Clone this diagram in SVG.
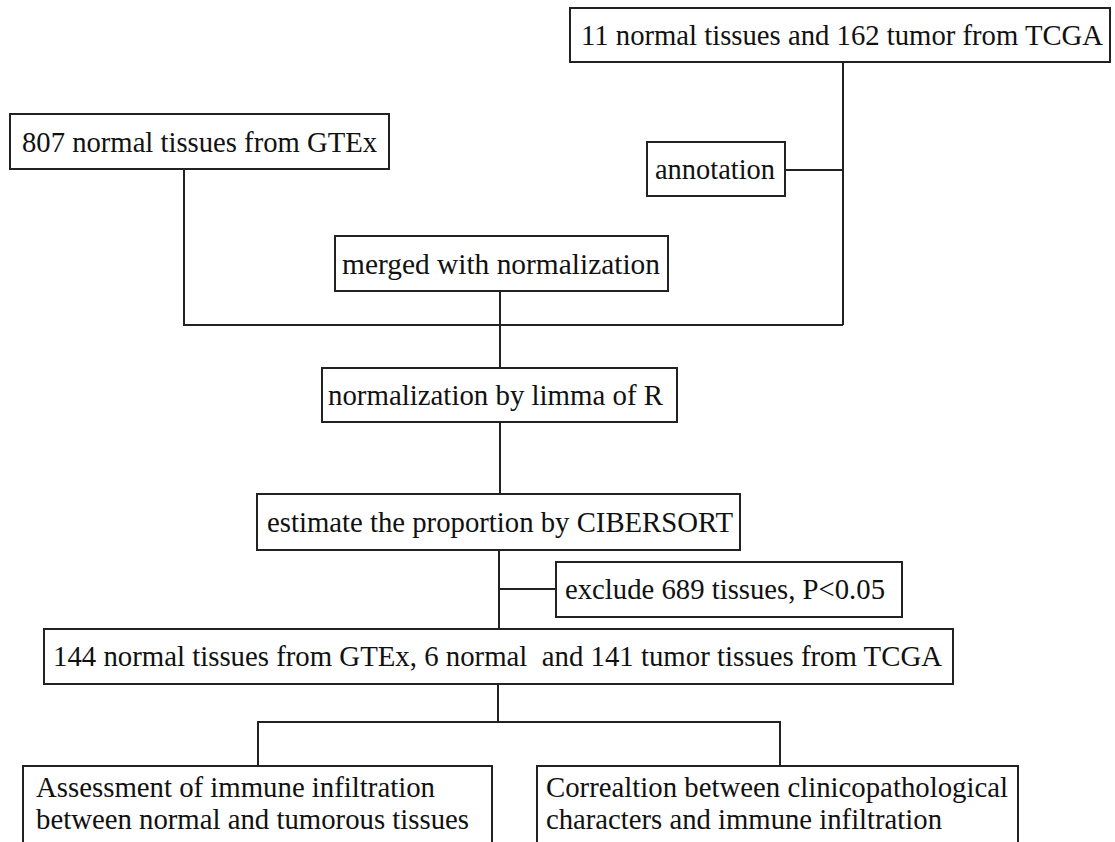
<svg xmlns="http://www.w3.org/2000/svg" width="1115" height="842" viewBox="0 0 1115 842">
<style>
.box{fill:#fff;stroke:#222;stroke-width:2}
.ln{fill:none;stroke:#222;stroke-width:2}
.t{font-family:"Liberation Serif","Times New Roman",Times,serif;font-size:29px;fill:#111}
</style>
<rect width="1115" height="842" fill="#fff"/>
<g id="connectors">
<path class="ln" d="M843 62V325M785 170H843M184 169V325H843M500 291V368M500 422V494M499 550V629M499 589H556M498 684V722M258 766V722H780V766"/>
</g>
<g id="n_tcga"><rect class="box" x="570" y="8" width="540" height="54"/><text class="t" x="581" y="45" textLength="522" lengthAdjust="spacingAndGlyphs">11 normal tissues and 162 tumor from TCGA</text></g>
<g id="n_gtex"><rect class="box" x="10" y="114" width="379" height="55"/><text class="t" x="22" y="152" textLength="355" lengthAdjust="spacingAndGlyphs">807 normal tissues from GTEx</text></g>
<g id="n_annot"><rect class="box" x="647" y="142" width="138" height="54"/><text class="t" x="655" y="179" textLength="120" lengthAdjust="spacingAndGlyphs">annotation</text></g>
<g id="n_merged"><rect class="box" x="335" y="236" width="333" height="55"/><text class="t" x="342" y="274" textLength="318" lengthAdjust="spacingAndGlyphs">merged with normalization</text></g>
<g id="n_limma"><rect class="box" x="322" y="368" width="355" height="54"/><text class="t" x="328" y="405" textLength="335" lengthAdjust="spacingAndGlyphs">normalization by limma of R</text></g>
<g id="n_cibersort"><rect class="box" x="257" y="494" width="483" height="56"/><text class="t" x="267" y="532" textLength="466" lengthAdjust="spacingAndGlyphs">estimate the proportion by CIBERSORT</text></g>
<g id="n_exclude"><rect class="box" x="556" y="562" width="346" height="55"/><text class="t" x="565" y="599" textLength="320" lengthAdjust="spacingAndGlyphs">exclude 689 tissues, P&lt;0.05</text></g>
<g id="n_144"><rect class="box" x="44" y="629" width="909" height="55"/><text class="t" x="53" y="666" textLength="889" lengthAdjust="spacingAndGlyphs" xml:space="preserve">144 normal tissues from GTEx, 6 normal  and 141 tumor tissues from TCGA</text></g>
<g id="n_assess"><rect class="box" x="23" y="766" width="469" height="90"/><text class="t" x="36" y="797" textLength="399" lengthAdjust="spacingAndGlyphs">Assessment of immune infiltration</text><text class="t" x="36" y="829" textLength="433" lengthAdjust="spacingAndGlyphs">between normal and tumorous tissues</text></g>
<g id="n_corr"><rect class="box" x="537" y="766" width="481" height="90"/><text class="t" x="546" y="797" textLength="462" lengthAdjust="spacingAndGlyphs">Correaltion between clinicopathological</text><text class="t" x="546" y="829" textLength="396" lengthAdjust="spacingAndGlyphs">characters and immune infiltration</text></g>
</svg>
